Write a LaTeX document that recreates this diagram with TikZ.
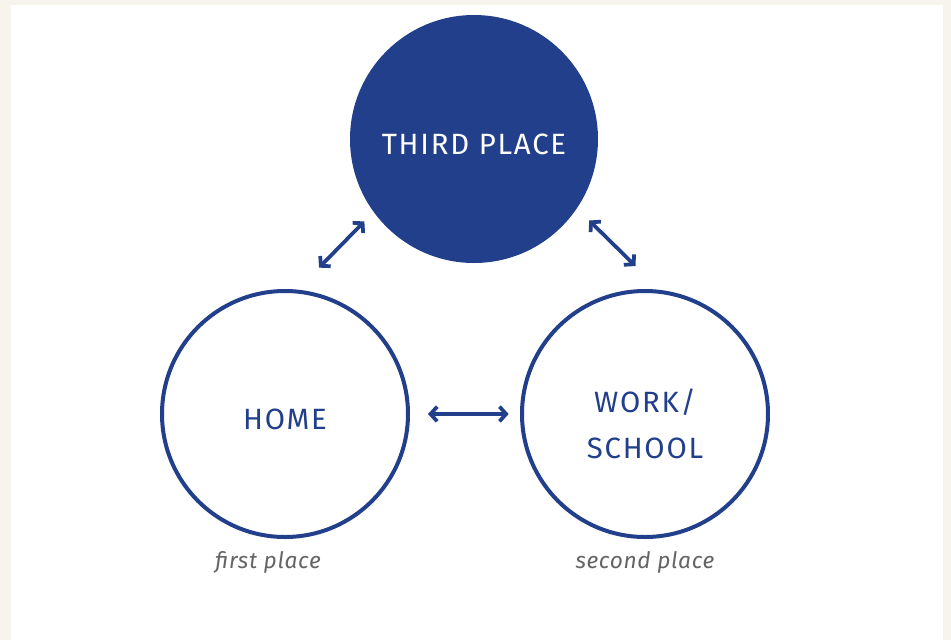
\documentclass[tikz,border=0pt]{standalone}
\usepackage{fontspec}
\setmainfont{Fira Sans}
\usetikzlibrary{arrows.meta}
\definecolor{placeblue}{RGB}{34,63,139}
\definecolor{capgray}{RGB}{100,100,100}
\definecolor{paper}{RGB}{247,244,238}

\newcommand{\placetext}[2][22.7pt]{\raisebox{0pt}[#1][0pt]{#2}}

\begin{document}
\begin{tikzpicture}[x=0.75pt,y=-0.75pt,
	place/.style={circle,inner sep=0pt,outer sep=0pt,minimum size=184.5pt,
		draw=placeblue,line width=3pt,text=placeblue,align=center,
		font=\fontsize{22}{34.5}\selectfont\addfontfeatures{LetterSpace=6}},
	link/.style={draw=placeblue,line width=2.8pt,{Straight Barb[length=5pt,width=11pt]}-{Straight Barb[length=5pt,width=11pt]}},
	caption/.style={text=capgray,font=\fontsize{17}{20}\selectfont\itshape\addfontfeatures{LetterSpace=3}}]
	\def\r{125} %outer radius of the circles
	
	%BACKGROUND
	\fill[paper] (0,0) rectangle (951,640);
	\fill[white] (11,5) rectangle (943,640);
	\useasboundingbox (0,0) rectangle (951,640);
	
	%PLACES
	\node[place,fill=placeblue,draw=none,minimum size=186pt,text=white] (third) at (474,139) {\placetext{THIRD PLACE}};
	\node[place] (home) at (285,414) {\placetext{HOME}};
	\node[place] (work) at (645,414) {\placetext[31.5pt]{WORK/}\\\placetext[15pt]{SCHOOL}};
	
	%ARROWS
	\draw[link,shorten <=25pt,shorten >=10pt] (home.85) -- (third.216);
	\draw[link,shorten <=28pt,shorten >=13pt] (work.82) -- (third.326);
	\draw[link,shorten <=15pt,shorten >=10pt] (home.east) -- (work.west);
	
	%LABELS
	\node[caption] (first) at (268,562) {first place};
	\node[caption] (second) at (645,562) {second place};
\end{tikzpicture}
\end{document}
